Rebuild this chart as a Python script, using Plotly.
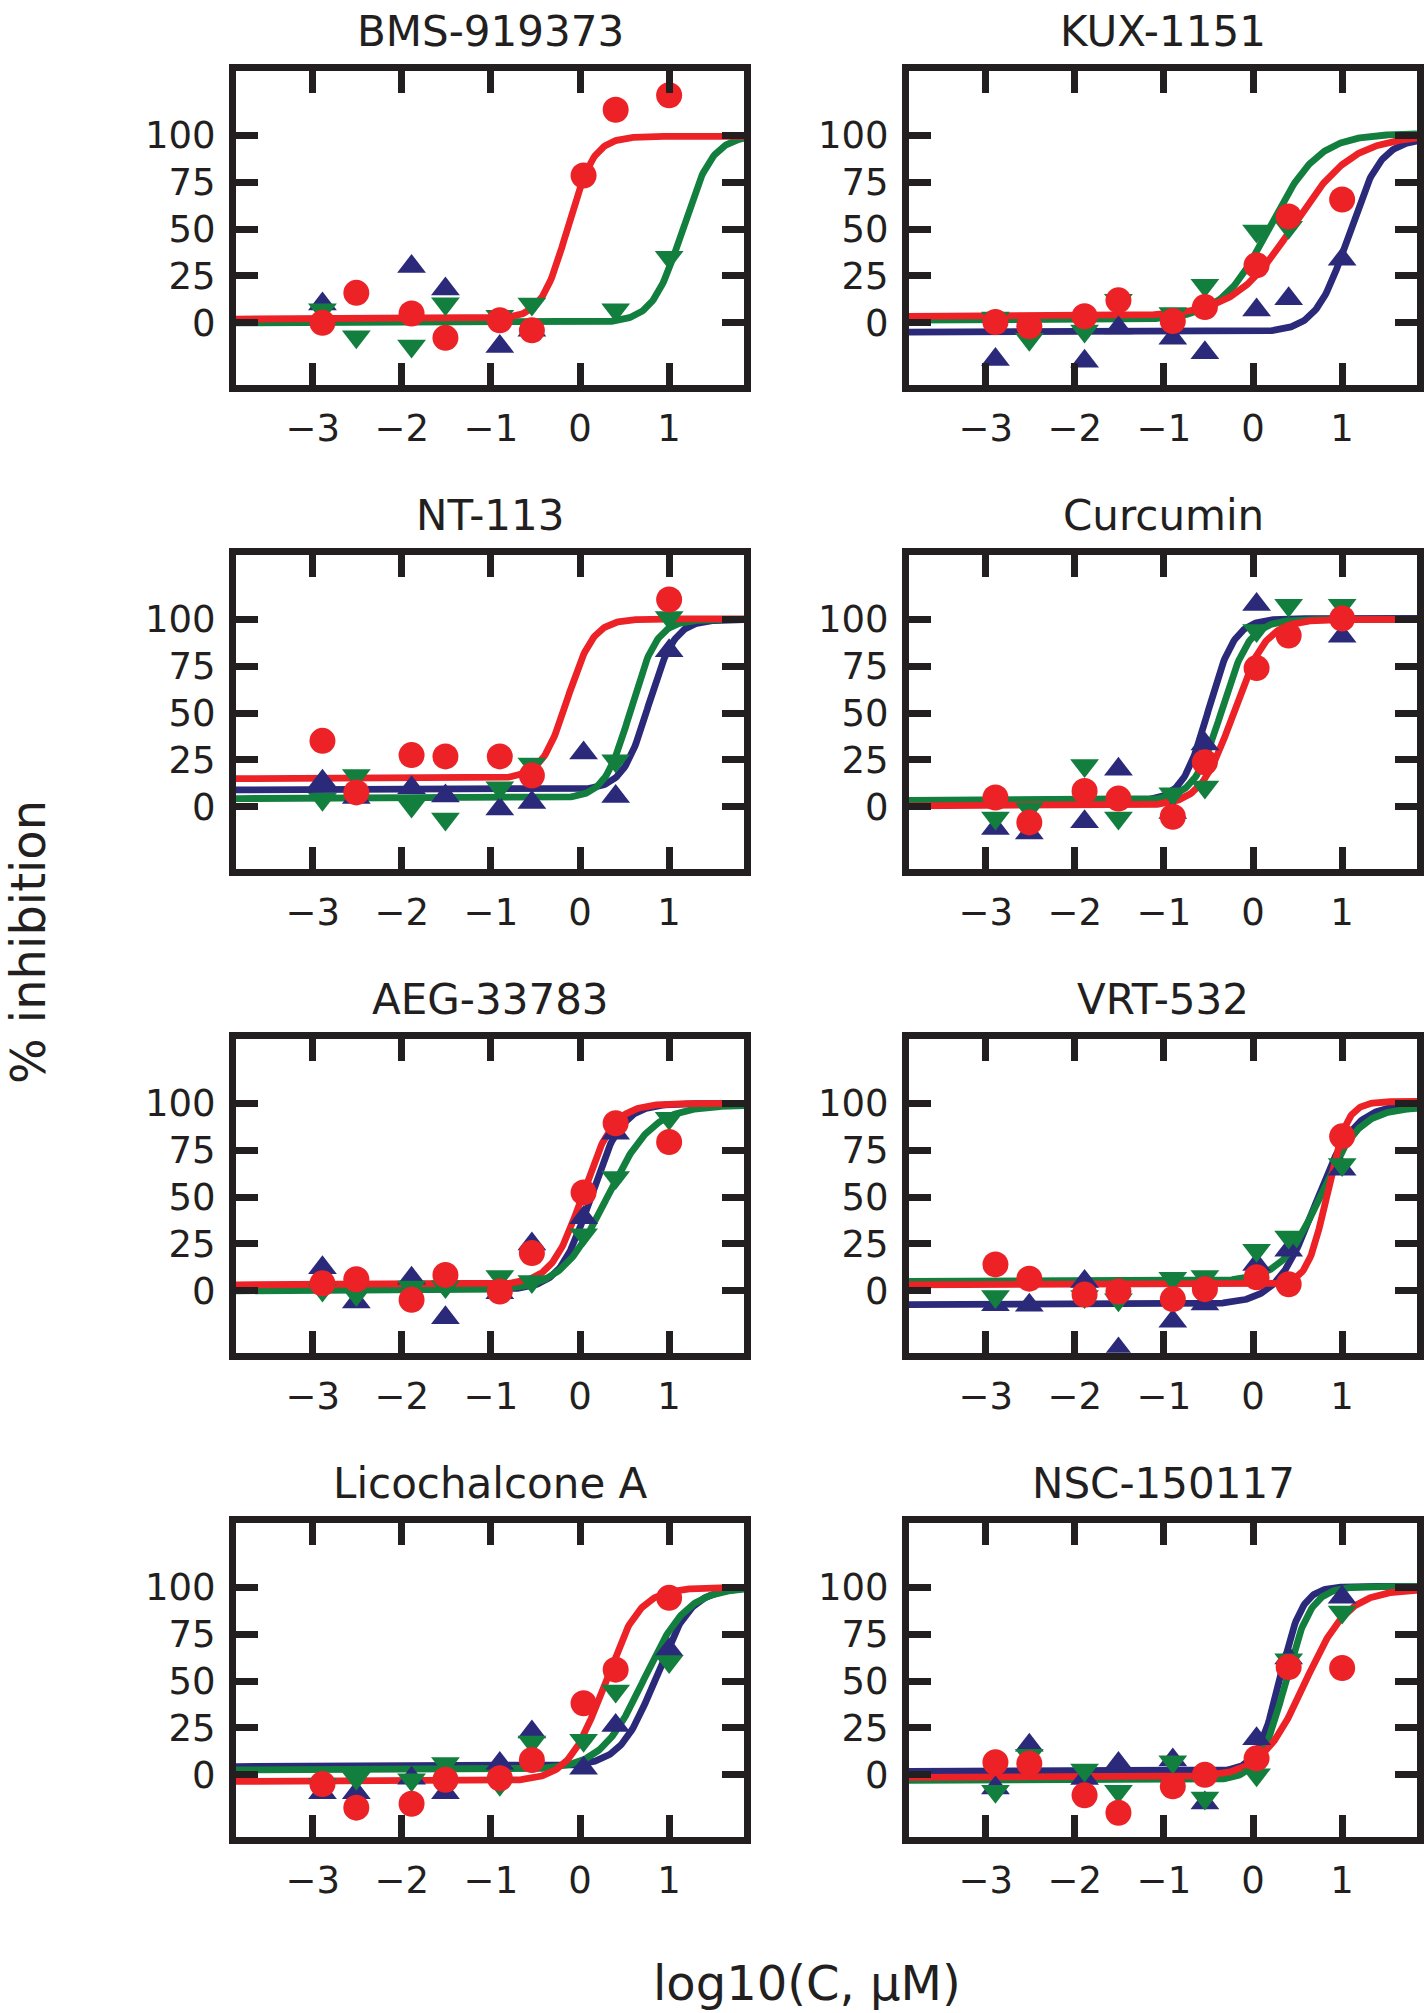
import numpy as np
import plotly.graph_objects as go

W, H = 1424, 2013

compounds = ["BMS-919373", "KUX-1151", "NT-113", "Curcumin",
             "AEG-33783", "VRT-532", "Licochalcone A", "NSC-150117"]
log_conc = [-2.89, -2.51, -1.89, -1.51, -0.90, -0.54, 0.04, 0.40, 1.00]
x_ticks = [-3, -2, -1, 0, 1]
y_ticks = [0, 25, 50, 75, 100]

bms_blue = [10, None, 30, 18, -12.6, -4, None, None, None]
bms_green = [7, -7.4, -12.3, 10.2, 3.5, 10, None, 7, 35]
bms_red = [0, 16, 5, -8, 1.4, -4, 78.6, 113.7, 121.4]

kux_blue = [-19.6, -2, -20.5, -2.8, -8.2, -16, 6.8, 12.8, 33.9]
kux_green = [2.6, -8.8, -4.4, 12, 5, 20, 49, 51, None]
kux_red = [0.4, -1.8, 3.5, 12, 1, 8.4, 30.7, 56.7, 65.8]

nt_blue = [13.7, 5, 10.2, 5.8, -1.2, 2.3, 28.7, 5.5, 83.3]
nt_green = [4, 16.7, 0.5, -6.5, 10.2, 22.9, None, 24.6, 101]
nt_red = [35.2, 7.7, 27.6, 26.9, 26.9, 16.7, None, None, 110.6]

cur_blue = [-11.5, -14, -8, 20, -3, 33.5, 108, None, 91]
cur_green = [-6, -1, 22, -6, 7, 10.6, 94, 107.6, 107.6]
cur_red = [5, -8.3, 8.5, 4.4, -5.3, 23.8, 74, 91.4, 100.5]

aeg_blue = [12.3, -6, 6.7, -14.4, -1, 25, 39, 84, None]
aeg_green = [0.5, -2, 2, 2.3, 7.6, 5, 29.9, 60.4, 92]
aeg_red = [4, 6.2, -4.8, 8.5, -0.4, 20.2, 52.5, 89.4, 79.4]

vrt_blue = [-7.4, -7.7, 5, -31, -16.2, -7, 14, 21.7, 64.8]
vrt_green = [-3, None, -3, -4.7, 6.7, 7.6, 21.7, 28.7, 67.4]
vrt_red = [14.1, 6.5, -2, -0.4, -4.4, 0.9, 7.2, 3.5, 82.4]

lico_blue = [-9.6, -9.6, -1.8, -9.6, 6, 22.8, 3.5, 26.3, 66.7]
lico_green = [-5, -1.8, -2.6, 6, -5, 17.5, 18.4, 44.7, 60.5]
lico_red = [-4.9, -17.5, -15.4, -2.6, -1.8, 7.9, 38.2, 56.1, 94.4]

nsc_blue = [-7, 15.8, -2, 6, 7.9, -15, 19.3, 62.3, 94.7]
nsc_green = [-8.8, 10.5, 2.6, -8.8, 7, -12.3, 0, 61.4, 86.8]
nsc_red = [6.7, 6.1, -10.9, -20.2, -6.1, 0, 8.8, 57.5, 57]

# fitted dose-response curves: [bottom, top, logEC50, hill]
bms_blue_fit = None
bms_green_fit = [0, 100, 1.15, 2.6]
bms_red_fit = [2, 99.5, -0.14, 3.0]

kux_blue_fit = [-5, 98.5, 1.07, 2.4]
kux_green_fit = [1.4, 101, 0.19, 1.6]
kux_red_fit = [3.5, 100, 0.45, 1.3]

nt_blue_fit = [9, 100, 0.77, 3.0]
nt_green_fit = [4.4, 100, 0.57, 3.0]
nt_red_fit = [15, 100.3, -0.14, 3.0]

cur_blue_fit = [3, 100.5, -0.5, 3.0]
cur_green_fit = [3.5, 100, -0.35, 2.8]
cur_red_fit = [0.5, 100, -0.22, 2.4]

aeg_blue_fit = [0.5, 100, 0.12, 2.5]
aeg_green_fit = [0, 99, 0.30, 1.7]
aeg_red_fit = [3.2, 100, 0.03, 2.5]

vrt_blue_fit = [-7.4, 100, 0.70, 2.0]
vrt_green_fit = [5, 98, 0.76, 2.0]
vrt_red_fit = [3.2, 101, 0.83, 4.0]

lico_blue_fit = [4.4, 100, 0.85, 2.2]
lico_green_fit = [2.6, 100, 0.72, 1.8]
lico_red_fit = [-3.5, 100, 0.27, 2.2]

nsc_blue_fit = [1.8, 100.5, 0.30, 3.5]
nsc_green_fit = [-3, 100.5, 0.36, 3.0]
nsc_red_fit = [-1.4, 99, 0.58, 1.8]

panels = [
    (bms_blue, bms_green, bms_red, bms_blue_fit, bms_green_fit, bms_red_fit),
    (kux_blue, kux_green, kux_red, kux_blue_fit, kux_green_fit, kux_red_fit),
    (nt_blue, nt_green, nt_red, nt_blue_fit, nt_green_fit, nt_red_fit),
    (cur_blue, cur_green, cur_red, cur_blue_fit, cur_green_fit, cur_red_fit),
    (aeg_blue, aeg_green, aeg_red, aeg_blue_fit, aeg_green_fit, aeg_red_fit),
    (vrt_blue, vrt_green, vrt_red, vrt_blue_fit, vrt_green_fit, vrt_red_fit),
    (lico_blue, lico_green, lico_red, lico_blue_fit, lico_green_fit, lico_red_fit),
    (nsc_blue, nsc_green, nsc_red, nsc_blue_fit, nsc_green_fit, nsc_red_fit),
]

# ---------------- styling / layout ----------------
X_RANGE = [-3.86, 1.84]
Y_RANGE = [-33, 134.5]
INK = "#231f20"
FONT = "DejaVu Sans"
colors = ["#2b2a7a", "#137f3e", "#ec2227"]
symbols = ["triangle-up", "triangle-down", "circle"]
msizes = [25, 25, 26]
LW = 6.8

col_px = [(236, 744), (909, 1417)]
ROW_TOP0, ROW_PITCH, ROW_H = 70.7, 484, 314


def hill(x, p):
    b, t, e, h = p
    return b + (t - b) / (1 + 10 ** (h * (e - x)))


xs = np.linspace(X_RANGE[0], X_RANGE[1], 400)

fig = go.Figure()
annotations = []
layout = {}
for i, (name, pan) in enumerate(zip(compounds, panels)):
    r, c = divmod(i, 2)
    k = i + 1
    xa = "x" if k == 1 else f"x{k}"
    ya = "y" if k == 1 else f"y{k}"
    x0, x1 = col_px[c]
    top = ROW_TOP0 + r * ROW_PITCH
    bot = top + ROW_H
    axis_common = dict(showline=True, linewidth=7, linecolor=INK, mirror="ticks",
                       ticks="inside", ticklen=22, tickwidth=7, tickcolor=INK,
                       showgrid=False, zeroline=False,
                       tickfont=dict(family=FONT, size=37, color=INK))
    layout[f"xaxis{k}"] = dict(domain=[x0 / W, x1 / W], range=X_RANGE,
                               tickvals=x_ticks, anchor=ya,
                               ticklabelstandoff=5, **axis_common)
    layout[f"yaxis{k}"] = dict(domain=[1 - bot / H, 1 - top / H], range=Y_RANGE,
                               tickvals=y_ticks, anchor=xa,
                               ticklabelstandoff=6, **axis_common)
    pts = pan[:3]
    fits = pan[3:]
    for s in range(3):
        if fits[s] is not None:
            fig.add_trace(go.Scatter(x=xs, y=hill(xs, fits[s]), mode="lines",
                                     line=dict(color=colors[s], width=LW),
                                     xaxis=xa, yaxis=ya, showlegend=False,
                                     hoverinfo="skip"))
    for s in range(3):
        fig.add_trace(go.Scatter(x=log_conc, y=pts[s], mode="markers",
                                 marker=dict(color=colors[s], symbol=symbols[s],
                                             size=msizes[s], line=dict(width=0)),
                                 xaxis=xa, yaxis=ya, showlegend=False))
    annotations.append(dict(text=name, x=(x0 + x1) / 2 / W, y=1 - (top - 39) / H,
                            xref="paper", yref="paper", xanchor="center",
                            yanchor="middle", showarrow=False,
                            font=dict(family=FONT, size=42, color=INK)))

annotations.append(dict(text="% inhibition", x=28 / W, y=1 - 942 / H,
                        xref="paper", yref="paper", textangle=-90,
                        xanchor="center", yanchor="middle", showarrow=False,
                        font=dict(family=FONT, size=48, color=INK)))
annotations.append(dict(text="log10(C, μM)", x=807 / W, y=1 - 1983 / H,
                        xref="paper", yref="paper", xanchor="center",
                        yanchor="middle", showarrow=False,
                        font=dict(family=FONT, size=48, color=INK)))

fig.update_layout(width=W, height=H, margin=dict(l=0, r=0, t=0, b=0),
                  plot_bgcolor="white", paper_bgcolor="white",
                  annotations=annotations, **layout)
fig.write_html("out.html")
